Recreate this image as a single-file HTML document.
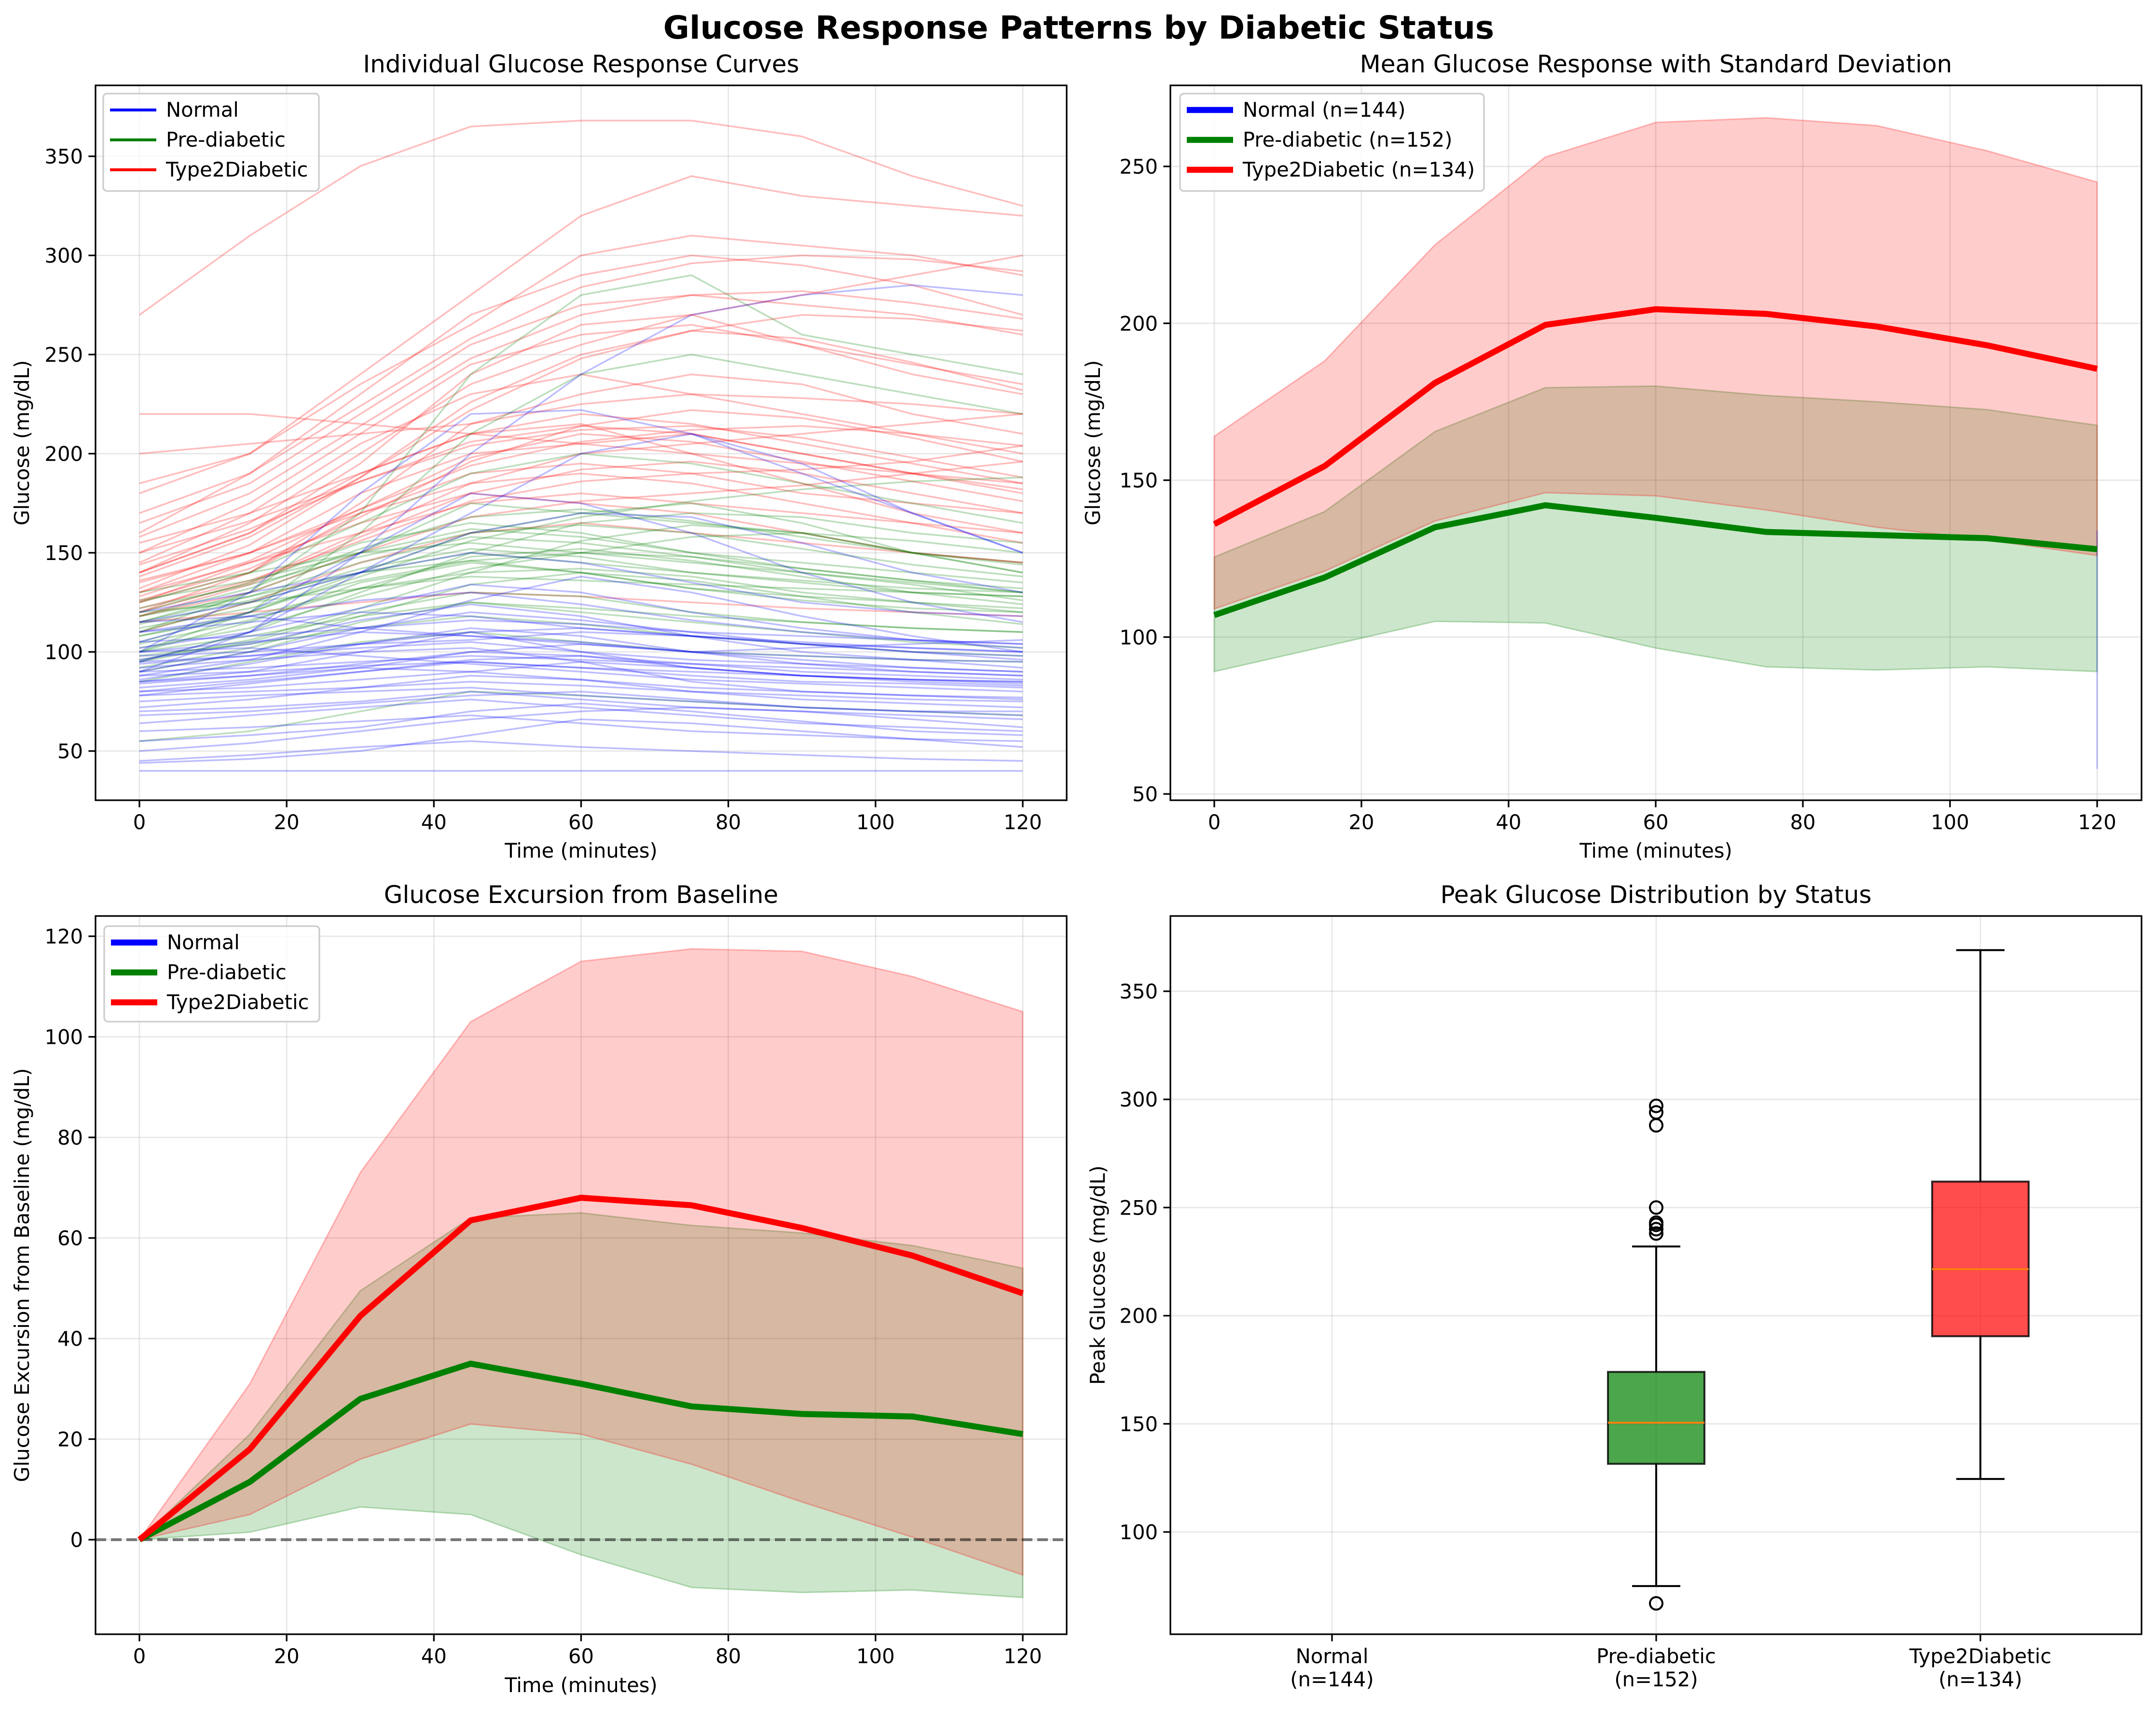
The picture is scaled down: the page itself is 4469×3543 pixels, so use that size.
<!DOCTYPE html>
<html><head><meta charset="utf-8"><style>
html,body{margin:0;padding:0;background:#fff;}
svg{display:block;font-family:"DejaVu Sans","Liberation Sans",sans-serif;}
</style></head><body>
<svg id="fig" xmlns="http://www.w3.org/2000/svg" width="4469" height="3543" viewBox="0 0 4469 3543">
<rect width="4469" height="3543" fill="#fff"/>
<text x="2236" y="80" font-size="66" font-weight="bold" text-anchor="middle">Glucose Response Patterns by Diabetic Status</text>
<g id="p1"></g>
<g id="p2"></g>
<g id="p3"></g>
<g id="p4"></g>
</svg>
<script>
// ---------- data ----------
const times = [0,15,30,45,60,75,90,105,120];
const normalCurves = [
[90,92,95,98,96,94,92,90,88],[80,85,90,95,92,88,85,84,82],[100,105,110,108,104,100,98,96,95],
[95,98,102,105,100,96,94,92,90],[85,88,92,90,86,82,80,78,77],[110,115,120,118,112,108,105,102,100],
[75,78,80,82,78,75,72,70,70],[60,62,65,68,64,60,58,56,55],[45,48,52,55,52,50,48,46,45],
[40,40,40,40,40,40,40,40,40],[105,120,150,180,175,160,140,125,115],[95,110,140,170,200,210,190,170,150],
[100,130,180,220,222,210,195,170,150],[90,110,150,200,240,270,280,285,280],[120,130,140,150,145,135,125,120,118],
[85,90,100,110,100,92,88,86,85],[70,72,75,80,76,72,70,68,66],[115,118,112,108,105,100,102,104,106],
[92,96,100,102,95,85,80,78,76],[80,82,86,90,95,92,88,85,83],[55,58,62,70,74,70,65,60,58],
[98,100,104,106,110,108,104,100,98],[88,90,93,95,92,90,88,86,85],[78,80,82,85,83,80,78,76,75],
[82,86,92,100,104,100,96,92,90],[100,102,98,94,90,86,84,82,80],[68,70,74,78,80,76,72,70,68],
[90,100,112,120,116,110,104,100,96],[44,46,50,58,66,64,60,56,52],[105,108,112,116,114,110,108,106,104],
[86,94,104,112,108,100,94,90,88],[96,104,116,124,118,108,100,96,92],[78,84,90,96,98,94,90,88,86],
[110,118,126,130,124,116,110,106,104],[72,76,82,88,86,80,76,74,72],[102,110,122,134,130,120,112,106,102],
[88,96,110,126,138,130,118,108,100],[64,68,72,76,72,68,64,62,60],[94,98,104,110,112,108,104,102,100],
[84,88,94,100,98,92,88,86,84],[115,125,140,160,170,168,155,140,130],[50,54,60,66,70,72,70,66,62]
];
const preCurves = [
[110,125,140,150,145,140,135,130,128],[100,115,135,145,140,132,128,125,122],[120,135,155,165,160,150,145,140,135],
[95,105,120,130,128,120,115,112,110],[115,130,150,175,170,165,160,150,140],[105,120,140,160,170,175,165,150,145],
[90,100,115,125,120,115,110,105,102],[125,140,165,190,200,195,185,175,165],[100,120,160,210,240,250,240,230,220],
[110,130,170,240,280,290,260,250,240],[85,95,105,110,105,100,98,96,95],[130,140,150,155,150,145,140,135,130],
[100,108,118,125,122,118,115,112,110],[115,128,145,158,155,148,142,136,132],[55,60,70,80,78,75,72,70,68],
[108,118,132,140,142,138,130,125,120],[95,110,130,150,165,170,168,160,155],[120,125,132,138,136,134,132,130,128],
[112,122,136,146,150,148,140,134,126],[98,104,112,118,114,108,104,100,98],[118,132,152,168,172,166,158,150,144],
[104,116,132,148,152,146,138,130,124],[126,136,150,162,158,150,142,136,130],[92,102,118,134,140,136,128,120,114],
[114,126,142,152,148,140,136,132,130],[102,112,128,142,150,158,160,156,150],[118,128,140,146,140,132,126,122,120],
[96,106,122,140,156,164,160,150,140],[108,120,138,156,168,176,182,186,188],[122,134,148,160,164,160,152,144,138]
];
const t2Curves = [
[140,160,190,210,220,215,205,195,185],[130,150,180,200,205,210,200,190,180],[150,175,210,245,260,265,255,245,235],
[120,140,170,190,195,190,180,175,170],[160,190,230,270,290,300,295,285,270],[270,310,345,365,368,368,360,340,325],
[125,145,165,180,175,170,160,150,145],[180,200,240,280,320,340,330,325,320],[110,125,145,160,165,160,155,150,145],
[220,220,215,210,205,200,195,190,185],[140,165,200,235,255,270,280,290,300],[135,150,170,185,190,185,175,165,160],
[115,120,125,130,128,125,122,120,118],[165,185,220,255,275,280,275,270,260],[145,170,205,230,240,230,220,210,200],
[130,145,160,175,180,175,170,165,155],[185,200,235,265,300,310,305,300,290],[120,135,160,185,200,205,210,215,220],
[155,170,190,210,215,200,185,170,160],[125,140,175,215,230,240,235,220,210],[200,205,210,215,225,230,228,225,220],
[140,160,195,240,265,270,255,240,230],[128,146,172,198,210,206,196,186,176],[118,130,150,168,176,180,184,190,196],
[138,158,188,222,248,262,270,268,262],[126,142,168,196,214,222,218,208,196],[150,166,186,204,212,214,208,198,188],
[132,154,188,226,250,262,258,246,232],[170,190,224,258,284,296,300,298,292],[118,134,158,180,192,196,190,180,170],
[144,162,186,206,214,210,200,190,182],[158,180,214,248,270,280,282,276,268],[122,136,156,176,186,190,192,196,204],
[136,150,172,194,206,212,214,210,204]
];
// panel 2 means / bands
const redMean  = [136,154.5,181,199.5,204.5,203,199,193,185.5];
const redUpper = [164,188,225,253,264,265.5,263,255,245];
const redLower = [109,121,137,146,145,140.5,135,131,126];
const greenMean  = [107,119,135,142,138,133.5,132.5,131.5,128];
const greenUpper = [125.5,140,165.5,179.5,180,177,175,172.5,167.5];
const greenLower = [89,97,105,104.5,96.5,90.5,89.5,90.5,89];
const normalSegLow = 58, normalSegHigh = 134;
// panel 3 excursion
const redExc   = [0,18,44.5,63.5,68,66.5,62,56.5,49];
const redExcU  = [0,31,73,103,115,117.5,117,112,105];
const redExcL  = [0,5,16,23,21,15,7.5,0.5,-7];
const grnExc   = [0,11.5,28,35,31,26.5,25,24.5,21];
const grnExcU  = [0,21,49.5,64,65,62.5,61,58.5,54];
const grnExcL  = [0,1.5,6.5,5,-3,-9.5,-10.5,-10,-11.5];
// panel 4 box stats [whiskLo,q1,med,q3,whiskHi]
const boxCats = ["Normal\n(n=144)","Pre-diabetic\n(n=152)","Type2Diabetic\n(n=134)"];
const preBox = [75,131.5,150.5,174,232];
const t2Box  = [124.5,190.5,221.5,262,369];
const preFliers = [67,238,240,242,243,250,288,294,297];
const t2Fliers = [];
const xTicks = [0,20,40,60,80,100,120];
const p1YTicks = [50,100,150,200,250,300,350];
const p2YTicks = [50,100,150,200,250];
const p3YTicks = [0,20,40,60,80,100,120];
const p4YTicks = [100,150,200,250,300,350];

// ---------- helpers ----------
const NS="http://www.w3.org/2000/svg";
function mk(parent,tag,attrs,text){const e=document.createElementNS(NS,tag);for(const k in attrs)e.setAttribute(k,attrs[k]);if(text!==undefined)e.textContent=text;parent.appendChild(e);return e;}
function lin(d0,d1,r0,r1){return v=>r0+(v-d0)*(r1-r0)/(d1-d0);}
const FS=41.7;
function axesFrame(g,L,T,R,B,xs,ys,xt,yt){
  xt.forEach(v=>{const l=mk(g,'line',{x1:xs(v),x2:xs(v),y1:T,y2:B,stroke:'#b0b0b0','stroke-opacity':0.3,'stroke-width':2.8});
    });
  yt.forEach(v=>{const l=mk(g,'line',{x1:L,x2:R,y1:ys(v),y2:ys(v),stroke:'#b0b0b0','stroke-opacity':0.3,'stroke-width':2.8});
    });
}
function axesTicks(g,L,T,R,B,xs,ys,xt,yt,xlabels){
  const fr=mk(g,'rect',{x:L,y:T,width:R-L,height:B-T,fill:'none',stroke:'#000','stroke-width':3.3});
  
  xt.forEach((v,i)=>{mk(g,'line',{x1:xs(v),x2:xs(v),y1:B,y2:B+14.6,stroke:'#000','stroke-width':3.3});
    const lab=xlabels?xlabels[i]:String(v);
    const lines=lab.split('\n');
    lines.forEach((s,j)=>{const t=mk(g,'text',{x:xs(v),y:B+60+j*48,'font-size':FS,'text-anchor':'middle'},s);
      });
  });
  yt.forEach(v=>{mk(g,'line',{x1:L-14.6,x2:L,y1:ys(v),y2:ys(v),stroke:'#000','stroke-width':3.3});
    const t=mk(g,'text',{x:L-26,y:ys(v)+15,'font-size':FS,'text-anchor':'end'},String(v));
    });
}
function pts(xs,ys,xv,yv){return xv.map((x,i)=>xs(x).toFixed(1)+','+ys(yv[i]).toFixed(1)).join(' ');}
function band(xs,ys,xv,lo,hi){return pts(xs,ys,xv,hi)+' '+pts(xs,ys,xv.slice().reverse(),lo.slice().reverse());}
function legend(g,x,y,w,h,items,lw,yStep){
  const r=mk(g,'rect',{x:x,y:y,width:w,height:h,rx:8,fill:'#fff','fill-opacity':0.8,stroke:'#cccccc','stroke-width':3.3});
  
  items.forEach((it,i)=>{const cy=y+34+i*yStep;
    const l=mk(g,'line',{x1:x+14,x2:x+110,y1:cy,y2:cy,stroke:it[1],'stroke-width':lw});
    
    const t=mk(g,'text',{x:x+130,y:cy+14,'font-size':FS},it[0]);
    });
}
function titles(g,cx,ty,title,xl,xly,yl,ylx,cy){
  const t=mk(g,'text',{x:cx,y:ty,'font-size':50,'text-anchor':'middle'},title);
  
  if(xl){const a=mk(g,'text',{x:cx,y:xly,'font-size':FS,'text-anchor':'middle'},xl);
    }
  const b=mk(g,'text',{x:ylx,y:cy,'font-size':FS,'text-anchor':'middle',transform:`rotate(-90 ${ylx} ${cy})`},yl);
  
}

// ---------- panel 1 ----------
(function(){
 const g=document.getElementById('p1');
 const L=198,T=177,R=2211,B=1659;
 const xs=lin(0,120,289,2120), ys=lin(50,350,1557,324);
 axesFrame(g,L,T,R,B,xs,ys,xTicks,p1YTicks);
 [[t2Curves,'#ff0000'],[preCurves,'#008000'],[normalCurves,'#0000ff']].forEach(([cs,col])=>{
   cs.forEach(c=>{const p=mk(g,'polyline',{points:pts(xs,ys,times,c),fill:'none',stroke:col,'stroke-opacity':0.26,'stroke-width':3.5});
     });
 });
 axesTicks(g,L,T,R,B,xs,ys,xTicks,p1YTicks);
 legend(g,214,194,447,202,[['Normal','#0000ff'],['Pre-diabetic','#008000'],['Type2Diabetic','#ff0000']],6,62);
 titles(g,(L+R)/2,150,'Individual Glucose Response Curves','Time (minutes)',1778,'Glucose (mg/dL)',60,(T+B)/2);
})();

// ---------- panel 2 ----------
(function(){
 const g=document.getElementById('p2');
 const L=2426,T=177,R=4439,B=1659;
 const xs=lin(0,120,2517,4347), ys=lin(50,250,1646,345);
 axesFrame(g,L,T,R,B,xs,ys,xTicks,p2YTicks);
 let b=mk(g,'polygon',{points:band(xs,ys,times,greenLower,greenUpper),fill:'#008000','fill-opacity':0.2,stroke:'#008000','stroke-opacity':0.25,'stroke-width':3});
 
 b=mk(g,'polygon',{points:band(xs,ys,times,redLower,redUpper),fill:'#ff0000','fill-opacity':0.2,stroke:'#ff0000','stroke-opacity':0.25,'stroke-width':3});
 
 const nl=mk(g,'line',{x1:xs(120),x2:xs(120),y1:ys(normalSegHigh),y2:ys(normalSegLow),stroke:'#0000ff','stroke-opacity':0.25,'stroke-width':3});
 
 let l=mk(g,'polyline',{points:pts(xs,ys,times,greenMean),fill:'none',stroke:'#008000','stroke-width':12.5});
 
 l=mk(g,'polyline',{points:pts(xs,ys,times,redMean),fill:'none',stroke:'#ff0000','stroke-width':12.5});
 
 axesTicks(g,L,T,R,B,xs,ys,xTicks,p2YTicks);
 legend(g,2446,194,630,202,[['Normal (n=144)','#0000ff'],['Pre-diabetic (n=152)','#008000'],['Type2Diabetic (n=134)','#ff0000']],12.5,62);
 titles(g,(L+R)/2,150,'Mean Glucose Response with Standard Deviation','Time (minutes)',1778,'Glucose (mg/dL)',2280,(T+B)/2);
})();

// ---------- panel 3 ----------
(function(){
 const g=document.getElementById('p3');
 const L=198,T=1899,R=2211,B=3388;
 const xs=lin(0,120,289,2120), ys=lin(0,120,3192,1941);
 axesFrame(g,L,T,R,B,xs,ys,xTicks,p3YTicks);
 let b=mk(g,'polygon',{points:band(xs,ys,times,grnExcL,grnExcU),fill:'#008000','fill-opacity':0.2,stroke:'#008000','stroke-opacity':0.25,'stroke-width':3});
 
 b=mk(g,'polygon',{points:band(xs,ys,times,redExcL,redExcU),fill:'#ff0000','fill-opacity':0.2,stroke:'#ff0000','stroke-opacity':0.25,'stroke-width':3});
 
 const z=mk(g,'line',{x1:L,x2:R,y1:ys(0),y2:ys(0),stroke:'#000','stroke-opacity':0.5,'stroke-width':6,'stroke-dasharray':'22 10'});
 
 let l=mk(g,'polyline',{points:pts(xs,ys,times,grnExc),fill:'none',stroke:'#008000','stroke-width':12.5});
 
 l=mk(g,'polyline',{points:pts(xs,ys,times,redExc),fill:'none',stroke:'#ff0000','stroke-width':12.5});
 
 axesTicks(g,L,T,R,B,xs,ys,xTicks,p3YTicks);
 legend(g,216,1920,446,198,[['Normal','#0000ff'],['Pre-diabetic','#008000'],['Type2Diabetic','#ff0000']],12.5,62);
 titles(g,(L+R)/2,1872,'Glucose Excursion from Baseline','Time (minutes)',3508,'Glucose Excursion from Baseline (mg/dL)',60,(T+B)/2);
})();

// ---------- panel 4 ----------
(function(){
 const g=document.getElementById('p4');
 const L=2426,T=1899,R=4439,B=3388;
 const xs=lin(0,2,2761,4105), ys=lin(100,350,3176,2055);
 axesFrame(g,L,T,R,B,xs,ys,[0,1,2],p4YTicks);
 [[1,preBox,preFliers,'#008000'],[2,t2Box,t2Fliers,'#ff0000']].forEach(([i,s,fl,col])=>{
   const cx=xs(i),hw=100,cap=50;
   let w=mk(g,'line',{x1:cx,x2:cx,y1:ys(s[0]),y2:ys(s[1]),stroke:'#000','stroke-width':4});
   
   w=mk(g,'line',{x1:cx,x2:cx,y1:ys(s[3]),y2:ys(s[4]),stroke:'#000','stroke-width':4});
   
   mk(g,'line',{x1:cx-cap,x2:cx+cap,y1:ys(s[0]),y2:ys(s[0]),stroke:'#000','stroke-width':4});
   mk(g,'line',{x1:cx-cap,x2:cx+cap,y1:ys(s[4]),y2:ys(s[4]),stroke:'#000','stroke-width':4});
   const bx=mk(g,'rect',{x:cx-hw,y:ys(s[3]),width:2*hw,height:ys(s[1])-ys(s[3]),fill:col,'fill-opacity':0.7,stroke:'#000','stroke-opacity':0.8,'stroke-width':4});
   
   const md=mk(g,'line',{x1:cx-hw,x2:cx+hw,y1:ys(s[2]),y2:ys(s[2]),stroke:'#ff7f0e','stroke-width':4});
   
   fl.forEach(v=>{const c=mk(g,'circle',{cx:cx,cy:ys(v),r:13,fill:'none',stroke:'#000','stroke-width':4});
     });
 });
 axesTicks(g,L,T,R,B,xs,ys,[0,1,2],p4YTicks,boxCats);
 titles(g,(L+R)/2,1872,'Peak Glucose Distribution by Status',null,0,'Peak Glucose (mg/dL)',2290,(T+B)/2);
})();
</script>
</body></html>
